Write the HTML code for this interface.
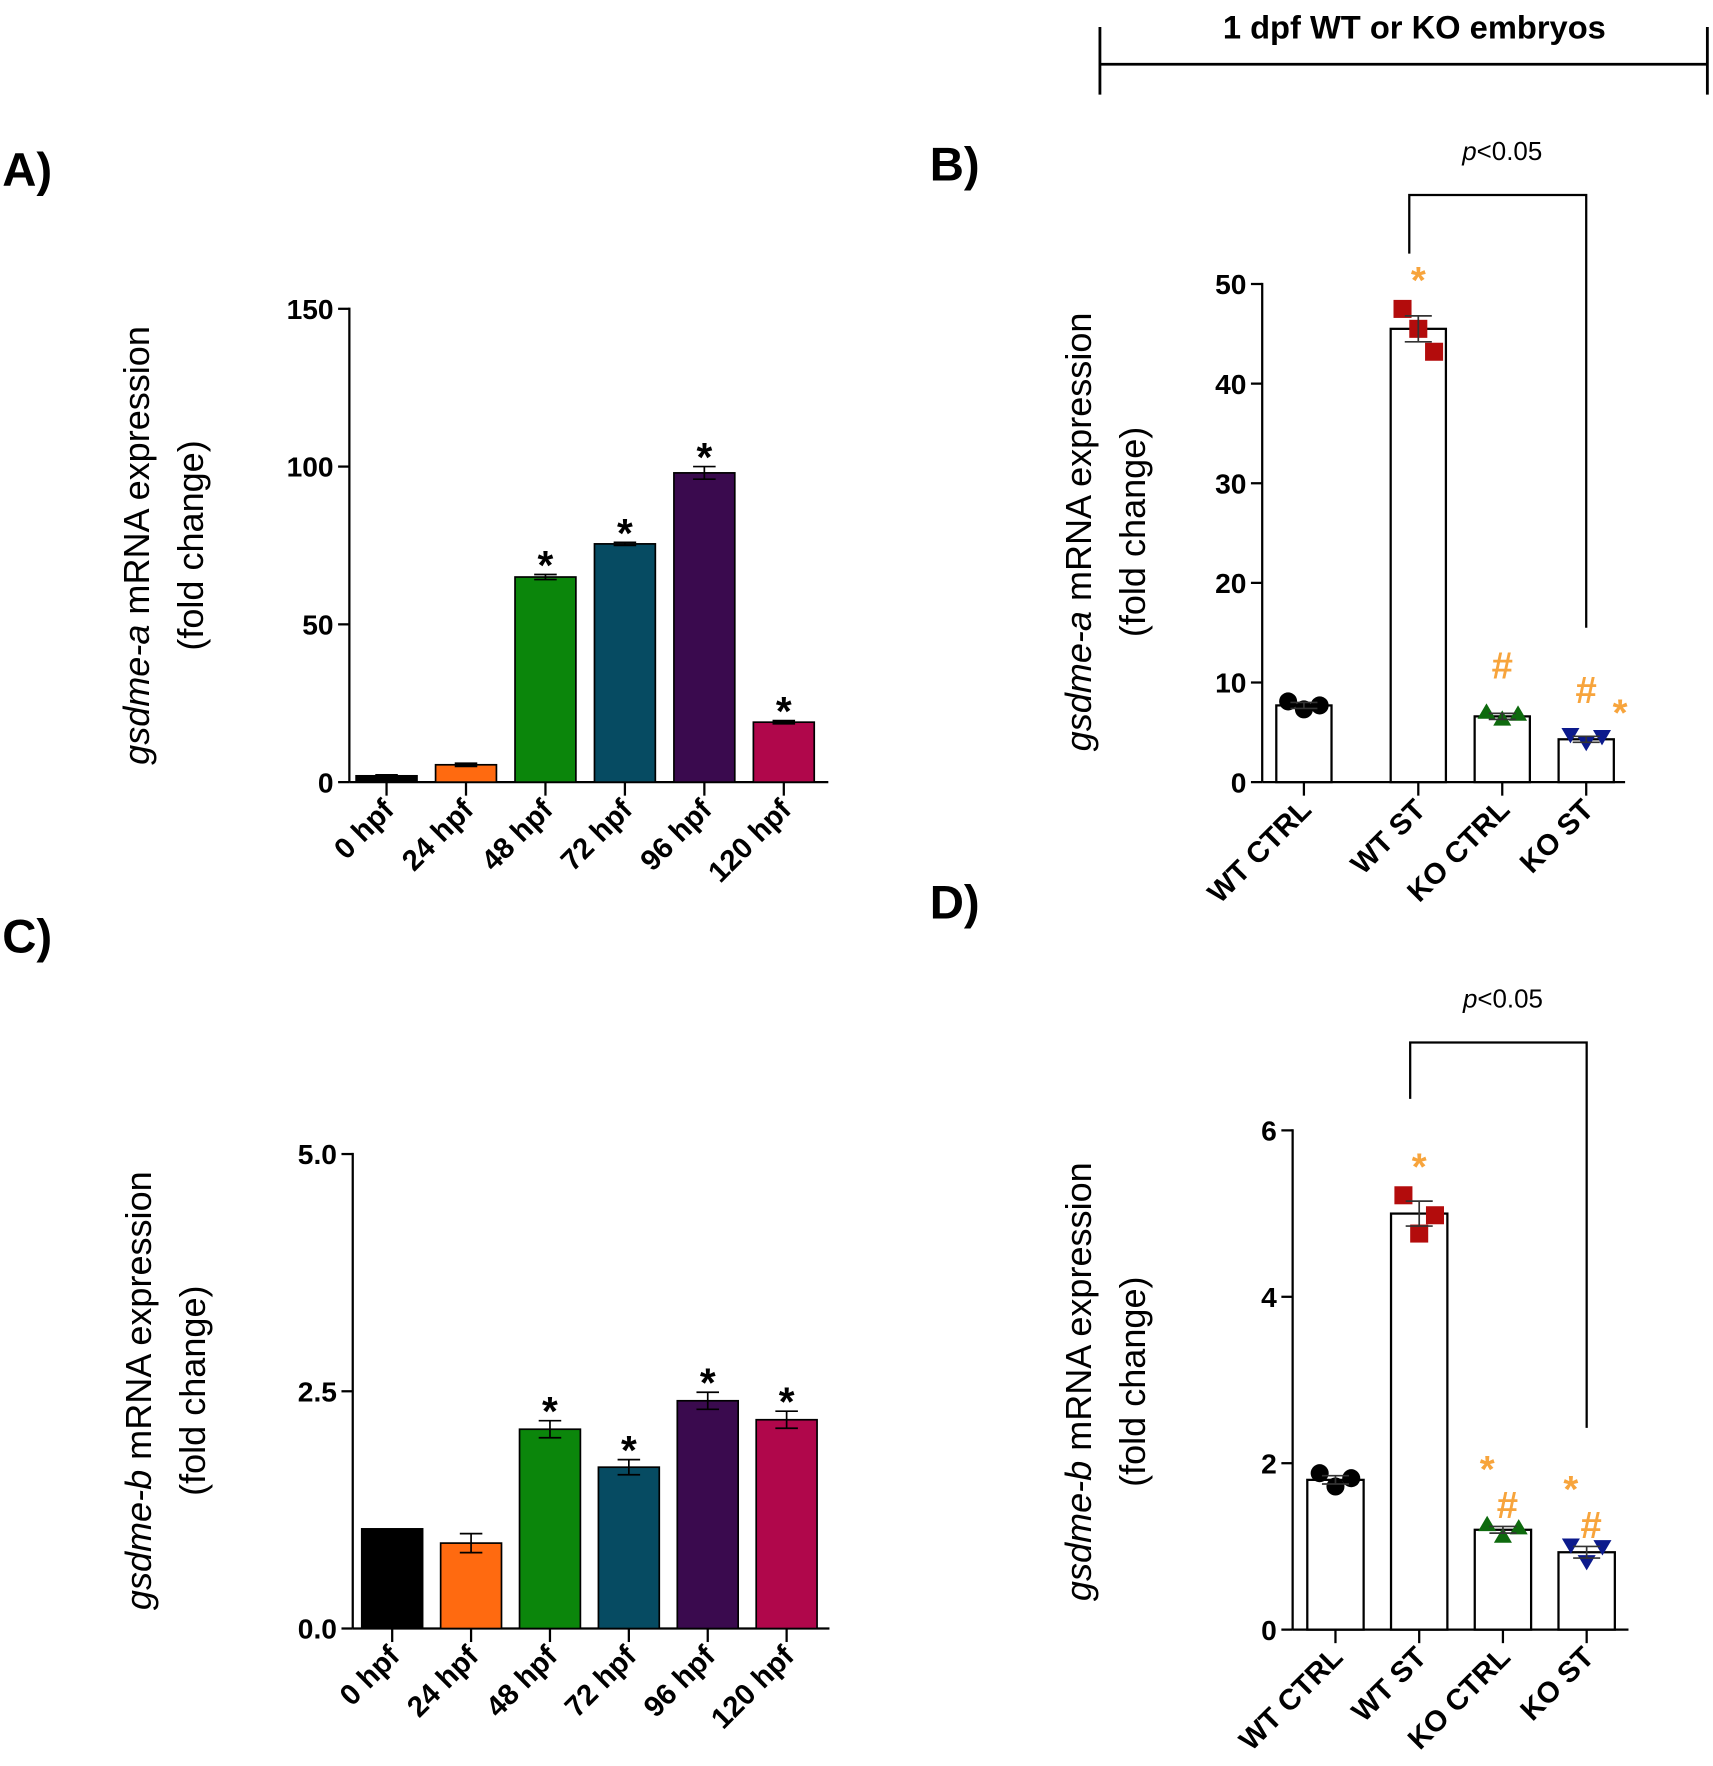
<!DOCTYPE html>
<html><head><meta charset="utf-8">
<style>
html,body{margin:0;padding:0;background:#fff;}
svg{display:block;}
text{font-family:"Liberation Sans",sans-serif;}
</style></head>
<body>
<svg id="fig" width="1713" height="1766" viewBox="0 0 1520 1567" preserveAspectRatio="none" xmlns="http://www.w3.org/2000/svg">
  <g>
    <text x="1255" y="34" font-size="29" font-weight="bold" text-anchor="middle">1 dpf WT or KO embryos</text>
    <line x1="976" y1="57" x2="1515" y2="57" stroke="#000" stroke-width="2.5"/>
    <line x1="976" y1="24" x2="976" y2="84" stroke="#000" stroke-width="2.5"/>
    <line x1="1515" y1="24" x2="1515" y2="84" stroke="#000" stroke-width="2.5"/>
  </g>
  <text x="2" y="165" font-size="42" font-weight="bold">A)</text>
  <text x="825" y="160" font-size="42" font-weight="bold">B)</text>
  <text x="2" y="845" font-size="42" font-weight="bold">C)</text>
  <text x="825" y="815" font-size="42" font-weight="bold">D)</text>
  <g id="pA"></g>
  <g id="pB"></g>
  <g id="pC"></g>
  <g id="pD"></g>
</svg>
<script>
// ---- data ----
const timeCategories = ["0 hpf","24 hpf","48 hpf","72 hpf","96 hpf","120 hpf"];
const timeColors = ["#000000","#ff6a10","#0b860b","#064b62","#3a0a4e","#b0074b"];
const gsdmeAValues = [2, 5.5, 65, 75.5, 98, 19];
const gsdmeAErrors = [0.3, 0.5, 0.8, 0.5, 2, 0.5];
const gsdmeASig = [false,false,true,true,true,true];
const gsdmeATicks = [0,50,100,150];
const gsdmeBValues = [1.05, 0.9, 2.1, 1.7, 2.4, 2.2];
const gsdmeBErrors = [0, 0.1, 0.09, 0.08, 0.09, 0.09];
const gsdmeBSig = [false,false,true,true,true,true];
const gsdmeBTicks = [0, 2.5, 5.0];
const groupCategories = ["WT CTRL","WT ST","KO CTRL","KO ST"];
const groupColors = ["#000000","#b30c0c","#0e6a0e","#0c1a8c"];
const groupShapes = ["circle","square","triangle","invtriangle"];
const bMeans = [7.7, 45.5, 6.6, 4.3];
const bErrors = [0.3, 1.3, 0.3, 0.3];
const bPoints = [[8.1,7.3,7.7],[47.5,45.5,43.2],[7.0,6.3,6.8],[4.8,4.0,4.6]];
const bTicks = [0,10,20,30,40,50];
const bMarks = [[],["*"],["#"],["#","*"]];
const dMeans = [1.8, 5.0, 1.2, 0.93];
const dErrors = [0.05, 0.15, 0.04, 0.07];
const dPoints = [[1.88,1.72,1.82],[5.22,4.76,4.98],[1.26,1.12,1.22],[1.02,0.82,1.0]];
const dTicks = [0,2,4,6];
const dMarks = [[],["*"],["*","#"],["*","#"]];

const NS="http://www.w3.org/2000/svg";
function mk(parent,tag,attrs,txt){const e=document.createElementNS(NS,tag);for(const k in attrs)e.setAttribute(k,attrs[k]);if(txt!==undefined)e.textContent=txt;parent.appendChild(e);return e;}

function axes(g,o){
  const y=v=>o.y0-(v-o.min)/(o.max-o.min)*(o.y0-o.y1);
  const x=i=>o.xFirst+i*o.step+(o.shift&&i>0?o.shift:0);
  const ya=mk(g,'line',{x1:o.ax,y1:y(o.max)-1,x2:o.ax,y2:o.y0,stroke:'#000','stroke-width':2});
  
  
  o.ticks.forEach((t,i)=>{
    mk(g,'line',{x1:o.ax-10,y1:y(t),x2:o.ax,y2:y(t),stroke:'#000','stroke-width':2});
    const tl=mk(g,'text',{x:o.ax-14,y:y(t)+9,'font-size':25,'text-anchor':'end','font-weight':'bold'},o.tickLabels[i]);
    
    
  });
  const xa=mk(g,'line',{x1:o.ax,y1:o.y0,x2:o.xEnd,y2:o.y0,stroke:'#000','stroke-width':2});
  
  
  o.cats.forEach((c,i)=>{
    mk(g,'line',{x1:x(i),y1:o.y0,x2:x(i),y2:o.y0+12,stroke:'#000','stroke-width':2});
    const tx=x(i)+8, ty=o.y0+26;
    const l=mk(g,'text',{x:tx,y:ty,'font-size':26,'font-weight':'bold','text-anchor':'end',transform:`rotate(-45 ${tx} ${ty})`},c);
    
    
  });
  const t=mk(g,'text',{x:0,y:0,'font-size':32,'text-anchor':'middle',transform:`translate(${o.tx},${o.tyc}) rotate(-90)`});
  
  
  mk(t,'tspan',{'font-style':'italic'},o.gene);
  mk(t,'tspan',{},' mRNA expression');
  const t2=mk(g,'text',{x:0,y:0,'font-size':32,'text-anchor':'middle',transform:`translate(${o.tx+48},${o.tyc}) rotate(-90)`},'(fold change)');
  
  
  return {x,y};
}

function colorPanel(g,o,vals,errs,sig){
  const {x,y}=axes(g,o);
  vals.forEach((v,i)=>{
    const b=mk(g,'rect',{x:x(i)-o.bw/2,y:y(v),width:o.bw,height:o.y0-y(v),fill:timeColors[i],stroke:'#000','stroke-width':1.5});
    
    
    if(errs[i]>0){
      mk(g,'line',{x1:x(i),y1:y(v+errs[i]),x2:x(i),y2:y(v-errs[i]),stroke:'#000','stroke-width':1.5});
      mk(g,'line',{x1:x(i)-10,y1:y(v+errs[i]),x2:x(i)+10,y2:y(v+errs[i]),stroke:'#000','stroke-width':1.5});
      mk(g,'line',{x1:x(i)-10,y1:y(v-errs[i]),x2:x(i)+10,y2:y(v-errs[i]),stroke:'#000','stroke-width':1.5});
    }
    if(sig[i]){
      const s=mk(g,'text',{x:x(i),y:y(v+errs[i])+4,'font-size':36,'font-weight':'bold','text-anchor':'middle'},'*');
      
      
    }
  });
}

function marker(g,shape,cx,cy,col){
  const r=8;
  if(shape==='circle') return mk(g,'circle',{cx,cy,r,fill:col});
  if(shape==='square') return mk(g,'rect',{x:cx-r,y:cy-r,width:2*r,height:2*r,fill:col});
  if(shape==='triangle') return mk(g,'polygon',{points:`${cx},${cy-r} ${cx+r},${cy+r*0.7} ${cx-r},${cy+r*0.7}`,fill:col});
  return mk(g,'polygon',{points:`${cx-r},${cy-r*0.7} ${cx+r},${cy-r*0.7} ${cx},${cy+r}`,fill:col});
}

function dotPanel(g,o,means,errs,pts,marks,br){
  const {x,y}=axes(g,o);
  means.forEach((m,i)=>{
    const b=mk(g,'rect',{x:x(i)-o.bw/2,y:y(m),width:o.bw,height:o.y0-y(m),fill:'#fff',stroke:'#000','stroke-width':2});
    
    
    pts[i].forEach((p,j)=>{
      const mm=marker(g,groupShapes[i],x(i)+(j-1)*14,y(p),groupColors[i]);
      
      
    });
    mk(g,'line',{x1:x(i),y1:y(m+errs[i]),x2:x(i),y2:y(m-errs[i]),stroke:'#333','stroke-width':1.5});
    mk(g,'line',{x1:x(i)-12,y1:y(m+errs[i]),x2:x(i)+12,y2:y(m+errs[i]),stroke:'#333','stroke-width':1.5});
    mk(g,'line',{x1:x(i)-12,y1:y(m-errs[i]),x2:x(i)+12,y2:y(m-errs[i]),stroke:'#333','stroke-width':1.5});
  });
  marks.forEach((ms,i)=>{
    const top=Math.max(...pts[i],means[i]+errs[i]);
    ms.forEach((s,k)=>{
      let px=x(i), py=y(top)-14;
      if(ms.length===2){
        if(o.layout==='B'){ px=x(i)+(k===0?0:30); py=y(top)-(k===0?28:8); }
        else { px=x(i)+(k===0?-14:4); py=y(top)-(k===0?38:6); }
      }
      if(ms.length===1 && s==='#') py=y(top)-30;
      const t=mk(g,'text',{x:px,y:py,'font-size':34,'font-weight':'bold',fill:'#f7a43c','text-anchor':'middle'},s);
      
      
    });
  });
  const bk=mk(g,'path',{d:`M${x(1)-8},${br.l} V${br.top} H${x(3)} V${br.r}`,fill:'none',stroke:'#000','stroke-width':2});
  
  
  const pt=mk(g,'text',{x:(x(1)+x(3))/2,y:br.top-31,'font-size':23,'text-anchor':'middle'});
  
  
  mk(pt,'tspan',{'font-style':'italic'},'p');
  mk(pt,'tspan',{},'<0.05');
}

colorPanel(document.getElementById('pA'),
  {ax:310,y0:694,y1:274,min:0,max:150,ticks:gsdmeATicks,tickLabels:["0","50","100","150"],
   xFirst:343,step:70.5,bw:54,xEnd:735,cats:timeCategories,gene:'gsdme-a',tx:132,tyc:484},
  gsdmeAValues,gsdmeAErrors,gsdmeASig);
colorPanel(document.getElementById('pC'),
  {ax:313,y0:1445,y1:1024,min:0,max:5,ticks:gsdmeBTicks,tickLabels:["0.0","2.5","5.0"],
   xFirst:348,step:70,bw:54,xEnd:736,cats:timeCategories,gene:'gsdme-b',tx:134,tyc:1234},
  gsdmeBValues,gsdmeBErrors,gsdmeBSig);
dotPanel(document.getElementById('pB'),
  {ax:1120,y0:694,y1:252,min:0,max:50,ticks:bTicks,tickLabels:bTicks.map(String),
   xFirst:1157,step:74.5,shift:27,bw:49,xEnd:1442,cats:groupCategories,gene:'gsdme-a',tx:968,tyc:472,layout:'B'},
  bMeans,bErrors,bPoints,bMarks,{l:225,top:173,r:557});
dotPanel(document.getElementById('pD'),
  {ax:1147,y0:1446,y1:1003,min:0,max:6,ticks:dTicks,tickLabels:dTicks.map(String),
   xFirst:1185,step:74.3,bw:50,xEnd:1445,cats:groupCategories,gene:'gsdme-b',tx:968,tyc:1226,layout:'D'},
  dMeans,dErrors,dPoints,dMarks,{l:975,top:925,r:1267});
</script>
</body></html>
